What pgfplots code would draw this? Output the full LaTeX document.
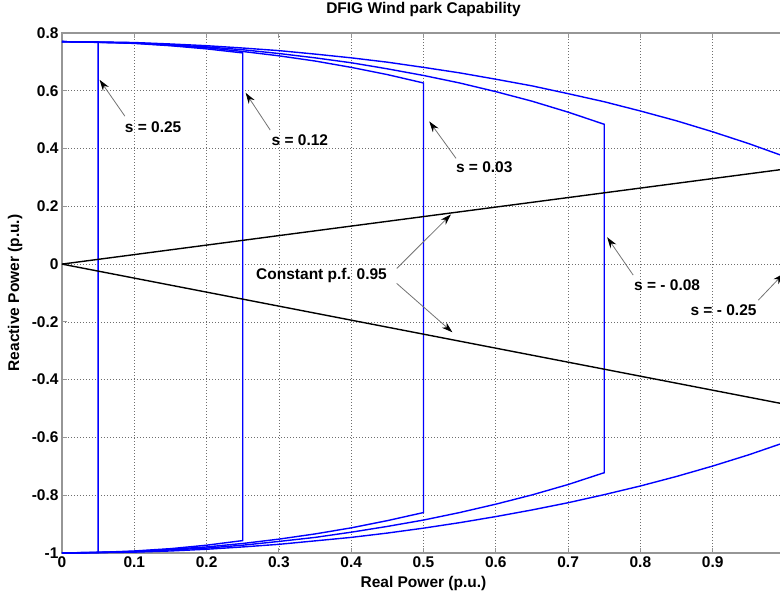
\documentclass[border=0pt]{standalone}
\usepackage{fontspec}
\setmainfont{Liberation Sans}
\usepackage{pgfplots}
\pgfplotsset{compat=1.18}
\usetikzlibrary{arrows.meta}
\definecolor{mblue}{RGB}{0,0,255}
\definecolor{axgray}{RGB}{150,150,150}
\definecolor{gridgray}{RGB}{110,110,110}
\newcommand{\lbl}{\fontsize{15.5}{18}\selectfont\bfseries}

\begin{document}
\begin{tikzpicture}
\begin{axis}[
    scale only axis,
    width=723pt, height=520pt,
    xmin=0, xmax=1, ymin=-1, ymax=0.8,
    xtick={0,0.1,0.2,0.3,0.4,0.5,0.6,0.7,0.8,0.9},
    xticklabels={0,0.1,0.2,0.3,0.4,0.5,0.6,0.7,0.8,0.9},
    ytick={-1,-0.8,-0.6,-0.4,-0.2,0,0.2,0.4,0.6,0.8},
    yticklabels={-1,-0.8,-0.6,-0.4,-0.2,0,0.2,0.4,0.6,0.8},
    tick label style={font=\lbl},
    grid=major,
    grid style={gridgray, dash pattern=on 1pt off 2pt, line width=0.7pt},
    axis line style={axgray, line width=1.3pt},
    tick style={axgray, line width=1pt},
    tick align=inside, major tick length=5pt,
    title={DFIG Wind park Capability},
    title style={font=\lbl, at={(0.5,1.0346)}, anchor=center},
    xlabel={Real Power (p.u.)},
    xlabel style={font=\lbl, at={(0.5,-0.0577)}, anchor=center},
    ylabel={Reactive Power (p.u.)},
    ylabel style={font=\lbl, at={(-0.065,0.5)}, anchor=center},
    clip=false,
]
% s = -0.25
\addplot[mblue, line width=1.4pt] coordinates {
(0,0.770) (0.05,0.769) (0.1,0.767) (0.15,0.762) (0.2,0.756) (0.25,0.748)
(0.3,0.739) (0.35,0.727) (0.4,0.714) (0.45,0.699) (0.5,0.681) (0.55,0.662)
(0.6,0.640) (0.65,0.617) (0.7,0.590) (0.75,0.562) (0.8,0.530) (0.85,0.496)
(0.9,0.458) (0.95,0.417) (1.0,0.372)
(1.0,-0.617) (0.95,-0.660) (0.9,-0.699) (0.85,-0.735) (0.8,-0.768)
(0.75,-0.798) (0.7,-0.826) (0.65,-0.851) (0.6,-0.874) (0.55,-0.895)
(0.5,-0.914) (0.45,-0.931) (0.4,-0.946) (0.35,-0.958) (0.3,-0.970)
(0.25,-0.979) (0.2,-0.987) (0.15,-0.993) (0.1,-0.997) (0.05,-0.999) (0,-1.000)};
% s = -0.08
\addplot[mblue, line width=1.4pt] coordinates {
(0,0.770) (0.1,0.766) (0.2,0.752) (0.25,0.742) (0.3,0.729) (0.35,0.714)
(0.4,0.697) (0.45,0.676) (0.5,0.653) (0.55,0.627) (0.6,0.597) (0.65,0.564)
(0.7,0.526) (0.75,0.484)
(0.75,-0.722) (0.7,-0.763) (0.65,-0.799) (0.6,-0.831) (0.55,-0.860)
(0.5,-0.886) (0.45,-0.908) (0.4,-0.928) (0.35,-0.946) (0.3,-0.960)
(0.25,-0.973) (0.2,-0.983) (0.1,-0.996) (0,-1.000)};
% s = 0.03
\addplot[mblue, line width=1.4pt] coordinates {
(0,0.770) (0.1,0.765) (0.2,0.749) (0.25,0.736) (0.3,0.721) (0.35,0.703)
(0.4,0.681) (0.45,0.656) (0.5,0.627)
(0.5,-0.860) (0.45,-0.888) (0.4,-0.913) (0.35,-0.934) (0.3,-0.952)
(0.25,-0.967) (0.2,-0.979) (0.1,-0.995) (0,-1.000)};
% s = 0.12
\addplot[mblue, line width=1.4pt] coordinates {
(0,0.770) (0.05,0.768) (0.1,0.764) (0.15,0.756) (0.2,0.745) (0.25,0.731)
(0.25,-0.957) (0.2,-0.973) (0.15,-0.985) (0.1,-0.993) (0.05,-0.998) (0,-1.000)};
% s = 0.25
\addplot[mblue, line width=1.4pt] coordinates {
(0,0.770) (0.05,0.769) (0.05,-0.999) (0,-1.000)};
% constant p.f.
\addplot[black, line width=1.4pt] coordinates {(0,0) (1,0.329)};
\addplot[black, line width=1.4pt] coordinates {(0,0) (1,-0.485)};

\tikzset{annot/.style={draw=black!55, line width=0.8pt, -{Stealth[length=11pt,width=7pt,black]}}}
\draw[annot] (axis cs:0.087,0.512) -- (axis cs:0.052,0.638);
\draw[annot] (axis cs:0.288,0.464) -- (axis cs:0.254,0.593);
\draw[annot] (axis cs:0.545,0.366) -- (axis cs:0.508,0.494);
\draw[annot] (axis cs:0.463,-0.015) -- (axis cs:0.538,0.172);
\draw[annot] (axis cs:0.463,-0.067) -- (axis cs:0.540,-0.236);
\draw[annot] (axis cs:0.790,-0.038) -- (axis cs:0.754,0.093);
\draw[annot] (axis cs:0.963,-0.125) -- (axis cs:0.998,-0.033);

\node[font=\lbl] at (axis cs:0.126,0.475) {s = 0.25};
\node[font=\lbl] at (axis cs:0.329,0.429) {s = 0.12};
\node[font=\lbl] at (axis cs:0.584,0.334) {s = 0.03};
\node[font=\lbl] at (axis cs:0.359,-0.038) {Constant p.f. 0.95};
\node[font=\lbl] at (axis cs:0.837,-0.073) {s = - 0.08};
\node[font=\lbl] at (axis cs:0.915,-0.159) {s = - 0.25};
\end{axis}
\pgfresetboundingbox
\path[use as bounding box] (-62pt,-44pt) rectangle (718pt,553pt);
\end{tikzpicture}
\end{document}
